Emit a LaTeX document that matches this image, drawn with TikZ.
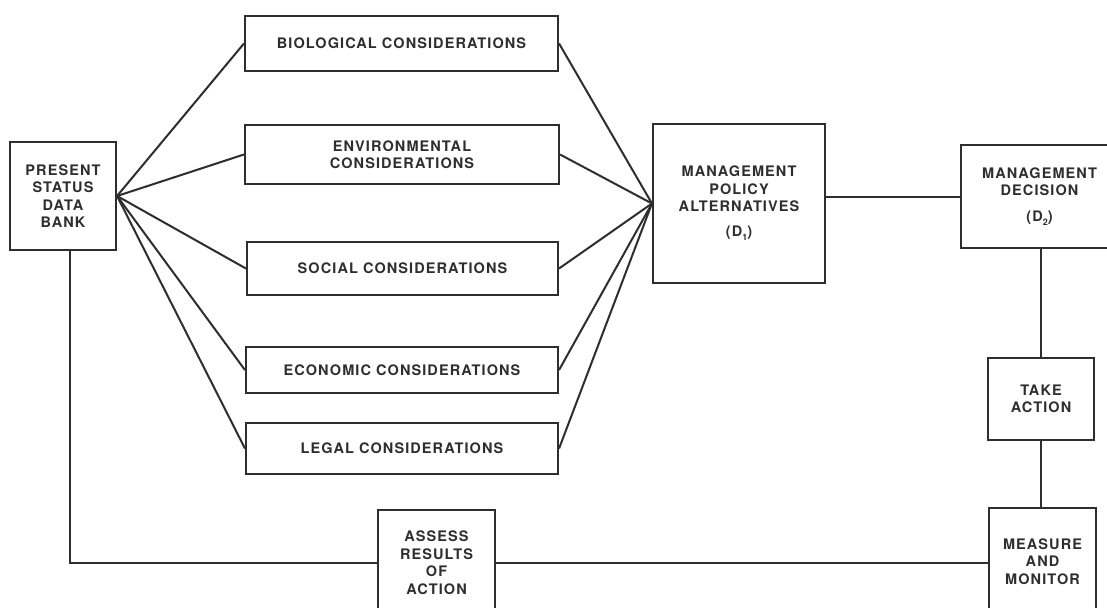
\documentclass[tikz,border=0pt]{standalone}
\usepackage{fontspec}
\setmainfont{TeX Gyre Heros}[LetterSpace=7.5]
\definecolor{ink}{HTML}{2E2E2E}
\newcommand{\subd}[1]{\lower4pt\hbox{\fontsize{9}{9}\selectfont #1}}
\begin{document}
\begin{tikzpicture}[x=1pt,y=-1pt,
  every node/.style={font=\fontsize{14.5}{17.5}\selectfont\bfseries, text=ink},
  box/.style={draw=ink, line width=2.1pt, rectangle, inner sep=0pt, align=center},
  conn/.style={draw=ink, line width=2pt}]
\useasboundingbox[fill=white] (0,0) rectangle (1107,607);
\node[box, minimum width=106pt, minimum height=108pt] (pres) at (63,196) {PRESENT\\STATUS\\DATA\\BANK};
\node[box, minimum width=313pt, minimum height=55pt] (bio) at (401.5,43.5) {BIOLOGICAL CONSIDERATIONS};
\node[box, minimum width=314pt, minimum height=59pt] (env) at (402,154.5) {ENVIRONMENTAL\\CONSIDERATIONS};
\node[box, minimum width=311pt, minimum height=53pt] (soc) at (402.5,268.5) {SOCIAL CONSIDERATIONS};
\node[box, minimum width=312pt, minimum height=46pt] (eco) at (402,370) {ECONOMIC CONSIDERATIONS};
\node[box, minimum width=312pt, minimum height=51pt] (leg) at (402,448.5) {LEGAL CONSIDERATIONS};
\node[box, minimum width=172pt, minimum height=159pt] (mpa) at (739,203.5) {\\[-8pt]MANAGEMENT\\POLICY\\ALTERNATIVES\\[7pt](D\subd{1})};
\node[box, minimum width=157pt, minimum height=103pt] (md) at (1039.5,196.5) {MANAGEMENT\\DECISION\\[8pt](D\subd{2})};
\node[box, minimum width=106pt, minimum height=82pt] (take) at (1041,399) {TAKE\\ACTION};
\node[box, minimum width=107pt, minimum height=107pt] (meas) at (1042.5,561.5) {MEASURE\\AND\\MONITOR};
\node[box, minimum width=117pt, minimum height=105pt] (assess) at (436.5,562.5) {ASSESS\\RESULTS\\OF\\ACTION};
\foreach \n in {bio,env,soc,eco,leg}{
  \draw[conn] (pres.east) -- (\n.west);
  \draw[conn] (\n.east) -- (mpa.west);
}
\draw[conn] (md.west) -- (md.west -| mpa.east);
\draw[conn] (take.north) -- (take.north |- md.south);
\draw[conn] (take.south) -- (take.south |- meas.north);
\coordinate (corner) at ([xshift=7pt]pres.south |- assess.west);
\draw[conn] ([xshift=7pt]pres.south) -- (corner) -- (assess.west);
\draw[conn] (assess.east) -- (assess.east -| meas.west);
\end{tikzpicture}
\end{document}
